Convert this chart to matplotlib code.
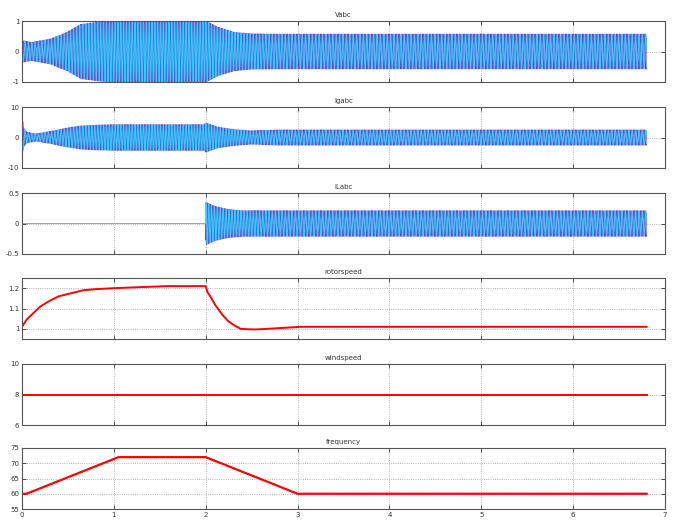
import numpy as np
import matplotlib
matplotlib.use("Agg")
import matplotlib.pyplot as plt

plt.rcParams.update({
    "font.family": "DejaVu Sans",
    "font.size": 5,
    "axes.linewidth": 0.8,
    "axes.edgecolor": "#555555",
})

# --- data ---
T_END = 6.8

# envelope amplitudes of the three-phase signals (time, amplitude)
v_env_t = [0.0, 0.1, 0.31, 0.49, 0.64, 0.85, 1.0, 2.0, 2.13, 2.31, 2.49, 2.8, 6.8]
v_env_a = [0.36, 0.30, 0.41, 0.63, 0.89, 0.97, 1.0, 1.0, 0.8, 0.63, 0.58, 0.57, 0.57]

i_env_t = [0.0, 0.02, 0.05, 0.15, 0.31, 0.49, 0.64, 0.85, 1.0, 1.98, 2.0, 2.13, 2.31, 2.49, 2.8, 6.8]
i_env_a = [6.8, 3.0, 1.8, 1.2, 2.0, 3.1, 3.8, 4.1, 4.2, 4.2, 4.8, 3.4, 2.6, 2.2, 2.5, 2.5]

l_env_t = [0.0, 1.999, 2.0, 2.1, 2.25, 2.4, 6.8]
l_env_a = [0.0, 0.0, 0.35, 0.28, 0.23, 0.21, 0.21]

rotor_t = [0.0, 0.05, 0.13, 0.2, 0.31, 0.4, 0.49, 0.67, 0.8, 1.0, 1.58, 2.0, 2.02, 2.05,
           2.1, 2.18, 2.24, 2.3, 2.38, 2.45, 2.55, 2.67, 3.04, 6.8]
rotor_v = [1.01, 1.045, 1.08, 1.11, 1.14, 1.16, 1.17, 1.19, 1.195, 1.20, 1.21, 1.21, 1.18, 1.16,
           1.12, 1.07, 1.04, 1.02, 1.00, 0.998, 0.997, 1.00, 1.01, 1.01]

wind_t = [0.0, 6.8]
wind_v = [8.0, 8.0]

freq_t = [0.0, 0.05, 1.05, 2.0, 3.0, 6.8]
freq_v = [60.0, 60.0, 72.0, 72.0, 60.0, 60.0]

titles = ["Vabc", "Igabc", "ILabc", "rotorspeed", "windspeed", "frequency"]
ylims = [(-1, 1), (-10, 10), (-0.5, 0.5), (0.95, 1.25), (6, 10), (55, 75)]
yticks = [[-1, 0, 1], [-10, 0, 10], [-0.5, 0, 0.5], [1, 1.1, 1.2], [6, 8, 10],
          [55, 60, 65, 70, 75]]
yticklabels = [["-1", "0", "1"], ["-10", "0", "10"], ["-0.5", "0", "0.5"],
               ["1", "1.1", "1.2"], ["6", "8", "10"], ["55", "60", "65", "70", "75"]]

phase_colors = ["#e0107a", "#5a5cf0", "#22d8ff"]

# time base for the three-phase waves, phase follows the frequency curve
t = np.linspace(0, T_END, 12000)
f_t = np.interp(t, freq_t, freq_v) * 0.45
phase = 2 * np.pi * np.cumsum(f_t) * (t[1] - t[0])

fig = plt.figure(figsize=(6.73, 5.22), dpi=100)
W, H = 673, 522
tops = [21, 107, 193, 278, 364, 448]
ax_h = 61
left, right = 22, 665

axes = []
for k in range(6):
    ax = fig.add_axes([left / W, 1 - (tops[k] + ax_h) / H, (right - left) / W, ax_h / H])
    axes.append(ax)

envs = [(v_env_t, v_env_a), (i_env_t, i_env_a), (l_env_t, l_env_a)]
for k, (et, ea) in enumerate(envs):
    ax = axes[k]
    amp = np.interp(t, et, ea)
    for p in range(3):
        ax.plot(t, amp * np.sin(phase - p * 2 * np.pi / 3), color=phase_colors[p], lw=0.7)

axes[3].plot(rotor_t, rotor_v, color="red", lw=1.4)
axes[4].plot(wind_t, wind_v, color="red", lw=1.4)
axes[5].plot(freq_t, freq_v, color="red", lw=1.6)

for k, ax in enumerate(axes):
    ax.set_xlim(0, 7)
    ax.set_ylim(*ylims[k])
    ax.set_yticks(yticks[k])
    ax.set_yticklabels(yticklabels[k])
    ax.set_xticks(range(8))
    if k < 5:
        ax.set_xticklabels([])
    ax.grid(True, linestyle=":", color="#999999", lw=0.6)
    ax.tick_params(direction="in", top=True, right=True, length=3, width=0.6, pad=2,
                   labelsize=5, colors="#333333")
    ax.set_title(titles[k], fontsize=5, pad=3, color="#333333")

fig.savefig("out.png", dpi=100)
